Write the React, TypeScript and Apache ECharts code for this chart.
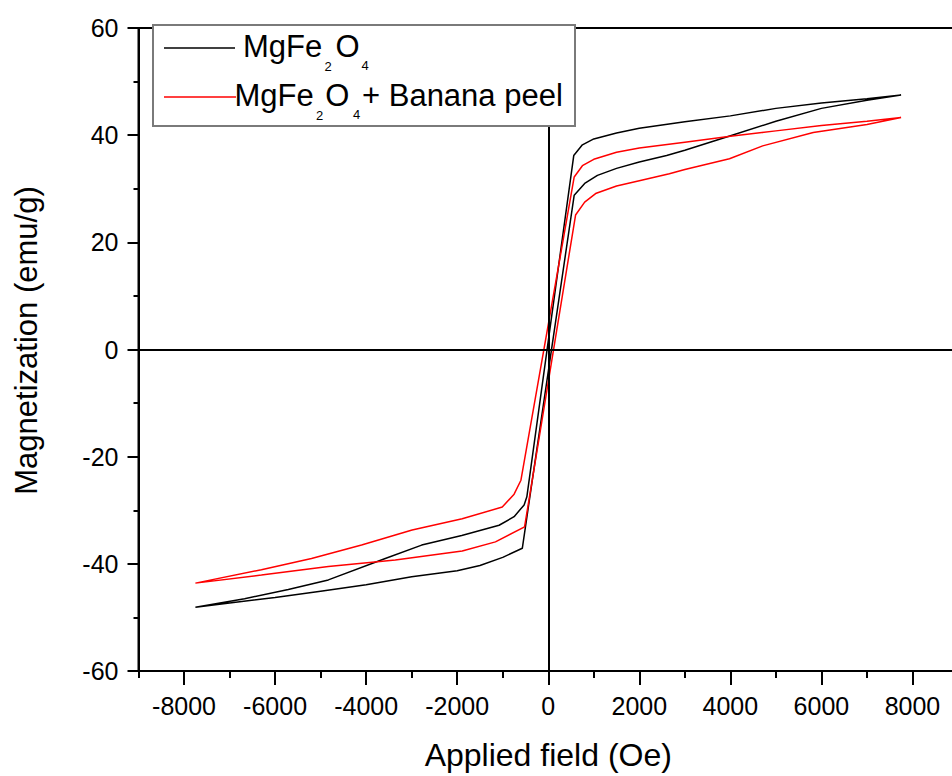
import React, { useEffect, useRef } from "react";
import * as echarts from "echarts";

// Applied field (Oe) vs Magnetization (emu/g), full hysteresis loops
const mgfe2o4: number[][] = [
  [7750, 47.5], [7000, 46.8], [6000, 46.0], [5000, 45.0], [4000, 43.6], [3000, 42.5],
  [2000, 41.3], [1500, 40.4], [1000, 39.3], [750, 38.2], [560, 36.2],
  [-470, -27.5], [-530, -29.0], [-750, -31.2], [-1080, -32.8], [-1900, -34.7], [-2780, -36.5],
  [-3580, -39.0], [-4830, -43.0], [-5710, -44.8], [-6670, -46.5], [-7750, -48.1],
  [-7000, -47.3], [-6000, -46.3], [-5000, -45.1], [-4000, -43.9], [-3000, -42.4],
  [-2000, -41.3], [-1500, -40.3], [-1000, -38.8], [-570, -37.1],
  [570, 28.8], [800, 31.0], [1080, 32.5], [1500, 33.8], [2000, 35.0], [2600, 36.2],
  [3000, 37.2], [3900, 39.6], [5000, 42.6], [6000, 45.0], [7000, 46.5], [7750, 47.5],
];

const mgfe2o4Banana: number[][] = [
  [7750, 43.3], [7000, 42.6], [6000, 41.8], [5000, 40.8], [4000, 39.8], [3000, 38.7],
  [2000, 37.6], [1500, 36.8], [1000, 35.5], [750, 34.3], [570, 32.2],
  [-600, -24.4], [-750, -27.0], [-1010, -29.4], [-1890, -31.6], [-2990, -33.7],
  [-4100, -36.5], [-5200, -39.0], [-6300, -41.1], [-7750, -43.6],
  [-6300, -42.1], [-4830, -40.5], [-3360, -39.3], [-1890, -37.6], [-1160, -35.9], [-520, -33.1],
  [600, 25.1], [800, 27.5], [1040, 29.1], [1500, 30.5], [2000, 31.5], [2660, 32.8],
  [3000, 33.6], [3980, 35.6], [4710, 38.0], [5820, 40.5], [7000, 42.0], [7750, 43.3],
];

const xMajorTicks = [-8000, -6000, -4000, -2000, 0, 2000, 4000, 6000, 8000];
const xMinorTicks = [-9000, -7000, -5000, -3000, -1000, 1000, 3000, 5000, 7000, 9000];
const seriesNames = ["MgFe2O4", "MgFe2O4+ Banana peel"];
const seriesColors = ["#000000", "#ff0000"];
const xTitle = "Applied field (Oe)";
const yTitle = "Magnetization (emu/g)";

const FONT = "Liberation Sans";

export default function App() {
  const ref = useRef<HTMLDivElement>(null);

  useEffect(() => {
    const chart = echarts.init(ref.current!, null, { renderer: "svg" });
    const tickStyle = { color: "#000", width: 2 };
    const t = (text: string, x: number, y: number, size: number) => ({
      type: "text",
      x,
      y,
      z: 101,
      style: {
        text,
        fontFamily: FONT,
        fontSize: size,
        fill: "#000",
        align: "left",
        verticalAlign: "middle",
      },
    });

    chart.setOption({
      animation: false,
      backgroundColor: "#ffffff",
      grid: {
        left: 138.5,
        top: 28,
        width: 819.5,
        height: 649,
        show: true,
        borderColor: "#000",
        borderWidth: 2,
        backgroundColor: "transparent",
      },
      xAxis: [
        {
          type: "value",
          min: -9000,
          max: 9000,
          position: "bottom",
          name: xTitle,
          nameLocation: "middle",
          nameGap: 68,
          nameTextStyle: { fontFamily: FONT, fontSize: 32, color: "#000" },
          axisLine: { onZero: false, lineStyle: { color: "#000", width: 2 } },
          axisTick: { customValues: xMajorTicks, length: 14, lineStyle: tickStyle },
          axisLabel: {
            customValues: xMajorTicks,
            margin: 22,
            fontFamily: FONT,
            fontSize: 25,
            color: "#000",
            formatter: (v: number) => String(v),
          },
          splitLine: { show: false },
        },
        {
          type: "value",
          min: -9000,
          max: 9000,
          position: "bottom",
          axisLine: { show: false, onZero: false },
          axisTick: { customValues: xMinorTicks, length: 7, lineStyle: tickStyle },
          axisLabel: { show: false },
          splitLine: { show: false },
        },
      ],
      yAxis: {
        type: "value",
        min: -60,
        max: 60,
        interval: 20,
        name: yTitle,
        nameLocation: "middle",
        nameGap: 97,
        nameTextStyle: { fontFamily: FONT, fontSize: 31, color: "#000", padding: [0, 0, 0, 18] },
        axisLine: { onZero: false, lineStyle: { color: "#000", width: 2 } },
        axisTick: { length: 11, lineStyle: tickStyle },
        minorTick: { show: true, splitNumber: 2, length: 5, lineStyle: tickStyle },
        axisLabel: {
          margin: 20,
          fontFamily: FONT,
          fontSize: 25,
          color: "#000",
          formatter: (v: number) => String(v),
        },
        splitLine: { show: false },
        minorSplitLine: { show: false },
      },
      series: [
        {
          type: "line",
          name: seriesNames[0],
          data: mgfe2o4,
          xAxisIndex: 0,
          symbol: "none",
          showSymbol: false,
          lineStyle: { color: seriesColors[0], width: 1.5 },
          itemStyle: { color: seriesColors[0] },
          markLine: {
            silent: true,
            symbol: ["none", "none"],
            label: { show: false },
            lineStyle: { color: "#000", width: 2, type: "solid" },
            data: [{ xAxis: 0 }, { yAxis: 0 }],
          },
        },
        {
          type: "line",
          name: seriesNames[1],
          data: mgfe2o4Banana,
          xAxisIndex: 0,
          symbol: "none",
          showSymbol: false,
          lineStyle: { color: seriesColors[1], width: 1.5 },
          itemStyle: { color: seriesColors[1] },
        },
      ],
      graphic: [
        {
          type: "rect",
          z: 100,
          shape: { x: 153, y: 25, width: 422, height: 101 },
          style: { fill: "#fff", stroke: "#7a7a7a", lineWidth: 2 },
        },
        {
          type: "line",
          z: 101,
          shape: { x1: 164, y1: 48, x2: 235, y2: 48 },
          style: { stroke: seriesColors[0], lineWidth: 1.5 },
        },
        {
          type: "line",
          z: 101,
          shape: { x1: 164, y1: 97, x2: 236, y2: 97 },
          style: { stroke: seriesColors[1], lineWidth: 1.5 },
        },
        t("MgFe", 243, 46.3, 31),
        t("2", 324.5, 66.5, 13),
        t("O", 335.5, 46.3, 31),
        t("4", 361.5, 65.8, 13),
        t("MgFe", 234.5, 95.3, 31),
        t("2", 316, 115.5, 13),
        t("O", 325.3, 95.3, 31),
        t("4", 353, 114.5, 13),
        t("+ Banana peel", 362, 95.3, 31),
      ],
    });
    return () => chart.dispose();
  }, []);

  return (
    <div style={{ position: "absolute", left: 0, top: 0, width: 952, height: 776, overflow: "hidden" }}>
      <div ref={ref} style={{ width: 958, height: 776, background: "#fff" }} />
    </div>
  );
}
